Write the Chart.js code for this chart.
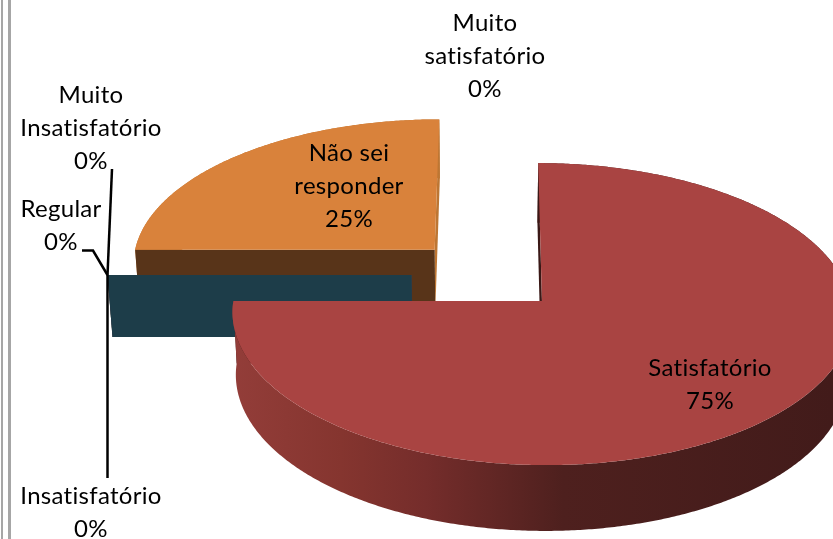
<!DOCTYPE html>
<html lang="pt">
<head>
<meta charset="utf-8">
<title>Satisfação</title>
<script src="https://cdn.jsdelivr.net/npm/chart.js@4"></script>
<style>
  html, body { margin: 0; padding: 0; background: #fff; }
  canvas { display: block; }
</style>
</head>
<body>
<canvas id="pieChart" width="833" height="539"></canvas>
<script>
// valores
const categories = ['Muito satisfatório', 'Satisfatório', 'Regular', 'Insatisfatório', 'Muito Insatisfatório', 'Não sei responder'];
const percents = [0, 75, 0, 0, 0, 25];
const faceColors = ['#4f81bd', '#a94442', '#7f9a48', '#6a4f8a', '#1d3d49', '#d9823b'];
const wallColors = ['#2c4a70', '#3a1816', '#4a5b2a', '#3f2f52', '#1d3d49', '#583419'];
const edgeColors = ['#2c4a70', '#3a1816', '#4a5b2a', '#3f2f52', '#1d3d49', '#bd7633'];

// posicao dos rotulos: x central, y da primeira linha, linhas
const labelBoxes = [
  { x: 485, y: 23, lines: ['Muito', 'satisfatório'] },
  { x: 710, y: 368, lines: ['Satisfatório'] },
  { x: 61, y: 209, lines: ['Regular'] },
  { x: 91, y: 496, lines: ['Insatisfatório'] },
  { x: 91, y: 95, lines: ['Muito', 'Insatisfatório'] },
  { x: 349, y: 153, lines: ['Não sei', 'responder'] }
];

// perspectiva do plano da pizza (unidade = raio)
function toScreen(X, Y) {
  const w = 1 - Y * 0.0848;
  return { x: 495 + (X * 304 - 7.5) / w, y: -1440 + 1715 / w };
}
// mesma posicao na base da pizza
function lower(p) {
  return { x: p.x + (480 - p.x) * 0.0135, y: p.y + 62 + (p.y - 275) * 0.02 };
}

function sliceGeometry(el) {
  const mid = (el.startAngle + el.endAngle) / 2;
  const d = el.options.offset / el.outerRadius;
  const ox = Math.cos(mid) * d, oy = Math.sin(mid) * d;
  const rim = (a) => toScreen(ox + Math.cos(a), oy + Math.sin(a));
  return { ox, oy, apex: toScreen(ox, oy), rim, start: el.startAngle, end: el.endAngle };
}

function poly(ctx, pts, fill) {
  ctx.beginPath();
  pts.forEach((p, i) => i ? ctx.lineTo(p.x, p.y) : ctx.moveTo(p.x, p.y));
  ctx.closePath();
  ctx.fillStyle = fill;
  ctx.fill();
}

function cutWall(ctx, g, angle, color) {
  const r = g.rim(angle);
  // fatia zero no topo fica de perfil e nao aparece
  if (Math.abs(r.x - g.apex.x) < 8 && g.apex.x > 450 && g.apex.x < 500) return;
  poly(ctx, [g.apex, r, lower(r), lower(g.apex)], color);
}

const pie3d = {
  id: 'pie3d',
  beforeDraw(chart) {
    // borda da pagina a esquerda
    const ctx = chart.ctx;
    ctx.save();
    ctx.fillStyle = '#a6a6a6';
    ctx.fillRect(1, 0, 2, chart.height);
    ctx.fillRect(8, 0, 3, chart.height);
    ctx.restore();
  },
  beforeDatasetsDraw(chart) {
    const ctx = chart.ctx;
    const arcs = chart.getDatasetMeta(0).data.map((el, i) => ({ el, i, g: sliceGeometry(el) }));
    arcs.sort((a, b) => a.g.oy - b.g.oy);
    ctx.save();

    arcs.forEach(({ i, g }) => {
      if (percents[i] === 0) {
        cutWall(ctx, g, g.start, wallColors[i]);
        return;
      }
      const rimTop = [];
      for (let a = g.start; a < g.end; a += Math.PI / 360) rimTop.push(g.rim(a));
      rimTop.push(g.rim(g.end));

      // parede final fica atras da lateral, a inicial na frente
      cutWall(ctx, g, g.end, edgeColors[i]);
      const side = rimTop.concat(rimTop.map(lower).reverse());
      if (percents[i] > 50) {
        const grad = ctx.createLinearGradient(233, 0, 833, 0);
        grad.addColorStop(0, '#933d39');
        grad.addColorStop(0.18, '#85352f');
        grad.addColorStop(0.32, '#752d2b');
        grad.addColorStop(0.55, '#4e201e');
        grad.addColorStop(1, '#421b1a');
        poly(ctx, side, grad);
      } else {
        poly(ctx, side, edgeColors[i]);
      }
      cutWall(ctx, g, g.start, wallColors[i]);
      poly(ctx, [g.apex].concat(rimTop), faceColors[i]);
    });

    // linhas de chamada
    const zero = sliceGeometry(chart.getDatasetMeta(0).data[4]);
    const hub = zero.rim(zero.start);
    ctx.strokeStyle = '#000';
    ctx.lineWidth = 2.5;
    [
      [{ x: 112, y: 169 }, hub],
      [hub, { x: hub.x, y: 478 }],
      [{ x: 82, y: 250.5 }, { x: 93, y: 250.5 }, hub]
    ].forEach(line => {
      ctx.beginPath();
      line.forEach((p, k) => k ? ctx.lineTo(p.x, p.y) : ctx.moveTo(p.x, p.y));
      ctx.stroke();
    });
    ctx.restore();
    return false;
  },
  afterDraw(chart) {
    const ctx = chart.ctx;
    ctx.save();
    ctx.fillStyle = '#000';
    ctx.font = '24px Lato';
    ctx.letterSpacing = '0.3px';
    ctx.textAlign = 'center';
    ctx.textBaseline = 'middle';
    labelBoxes.forEach((box, i) => {
      const lines = box.lines.concat(percents[i] + '%');
      lines.forEach((t, k) => ctx.fillText(t, box.x, box.y + k * 33));
    });
    ctx.restore();
  }
};

new Chart(document.getElementById('pieChart'), {
  type: 'pie',
  data: {
    labels: categories,
    datasets: [{
      data: percents,
      backgroundColor: faceColors,
      borderWidth: 0,
      offset: 55
    }]
  },
  options: {
    responsive: false,
    animation: false,
    radius: 220,
    layout: { padding: 0 },
    plugins: {
      legend: { display: false },
      tooltip: { enabled: false }
    }
  },
  plugins: [pie3d]
});
</script>
</body>
</html>
